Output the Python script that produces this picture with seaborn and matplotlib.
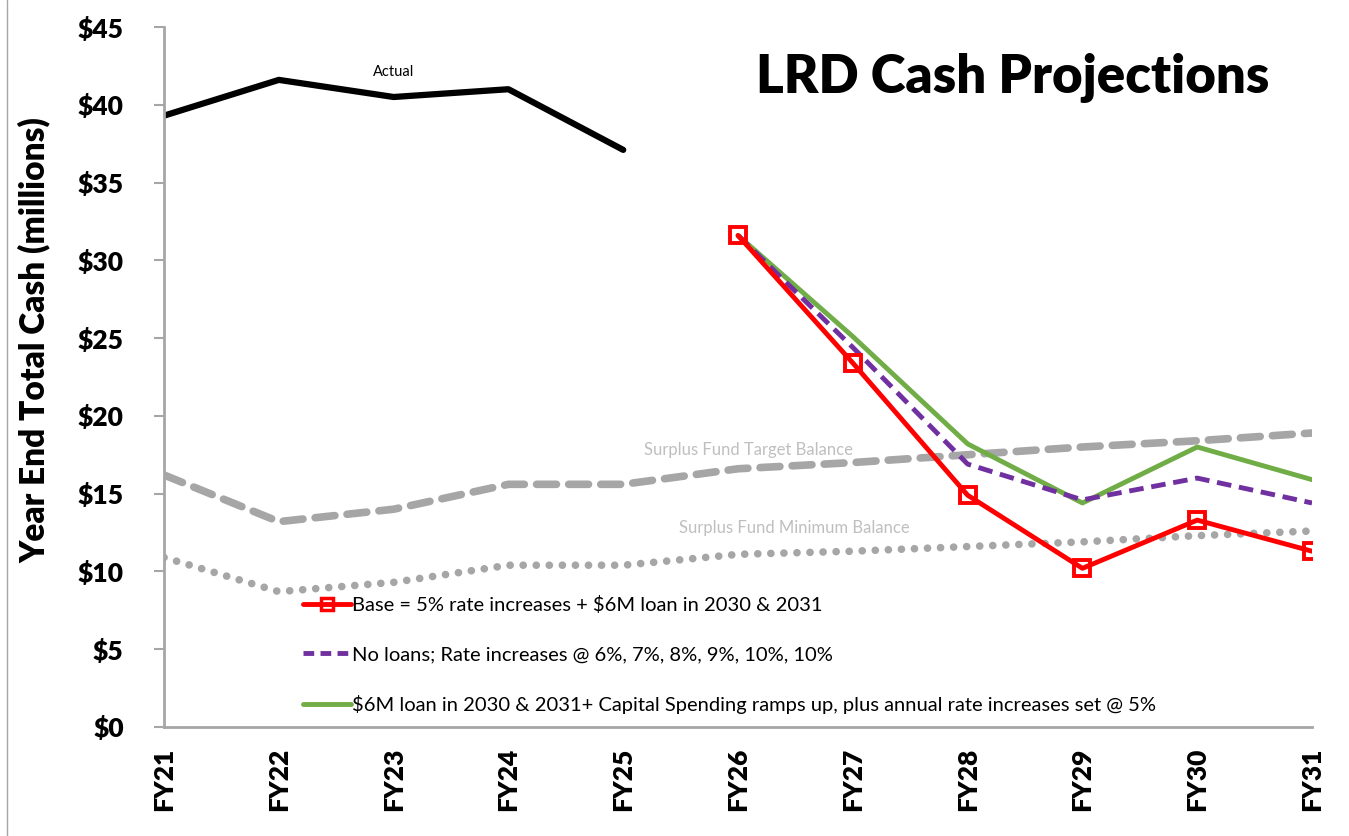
import numpy as np
import pandas as pd
import seaborn as sns
import matplotlib.pyplot as plt
from matplotlib.lines import Line2D

# data ($ millions)
years = ["FY21", "FY22", "FY23", "FY24", "FY25", "FY26", "FY27", "FY28", "FY29", "FY30", "FY31"]
actual_years = ["FY21", "FY22", "FY23", "FY24", "FY25"]
actual = [39.3, 41.6, 40.5, 41.0, 37.1]
target_balance = [16.2, 13.2, 14.0, 15.6, 15.6, 16.6, 17.0, 17.5, 18.0, 18.4, 18.9]
minimum_balance = [10.9, 8.7, 9.3, 10.4, 10.4, 11.1, 11.3, 11.6, 11.9, 12.3, 12.6]
proj_years = ["FY26", "FY27", "FY28", "FY29", "FY30", "FY31"]
base = [31.6, 23.4, 14.9, 10.2, 13.3, 11.3]
no_loans = [31.6, 24.4, 16.9, 14.6, 16.0, 14.4]
capital_ramp = [31.6, 25.1, 18.2, 14.4, 18.0, 15.9]

base_label = "Base = 5% rate increases + $6M loan in 2030 & 2031"
no_loans_label = "No loans; Rate increases @ 6%, 7%, 8%, 9%, 10%, 10%"
capital_label = "$6M loan in 2030 & 2031+ Capital Spending ramps up, plus annual rate increases set @ 5%"

sns.set_theme(style="white")
plt.rcParams['font.family'] = ['Lato', 'DejaVu Sans']
for key in ["text.color", "axes.labelcolor", "xtick.color", "ytick.color"]:
    plt.rcParams[key] = "black"

pos = {y: i for i, y in enumerate(years)}
gray = "#A6A6A6"

fig = plt.figure(figsize=(13.49, 8.36), dpi=100)
ax = fig.add_axes([0.1216, 0.1304, 0.851, 0.8373])

sns.lineplot(x=[pos[y] for y in years], y=target_balance, ax=ax, color=gray, linewidth=5.5,
             linestyle=(0, (2.6, 1.6)), dash_capstyle="round")
sns.lineplot(x=[pos[y] for y in years], y=minimum_balance, ax=ax, color=gray, linewidth=5.5,
             linestyle=(0, (0.01, 1.7)), dash_capstyle="round")
sns.lineplot(x=[pos[y] for y in actual_years], y=actual, ax=ax, color="black", linewidth=4.5)
px = [pos[y] for y in proj_years]
sns.lineplot(x=px, y=capital_ramp, ax=ax, color="#70AD47", linewidth=3.5)
sns.lineplot(x=px, y=no_loans, ax=ax, color="#7030A0", linewidth=3.5, linestyle=(0, (3, 1.6)))
sns.lineplot(x=px, y=base, ax=ax, color="#FF0000", linewidth=3.5, marker="s", markersize=12,
             markerfacecolor="none", markeredgecolor="#FF0000", markeredgewidth=2.8)

ax.set_xlim(0, len(years) - 1)
ax.set_ylim(0, 45)
ax.set_yticks(np.arange(0, 46, 5))
ax.set_yticklabels([f"${v}" for v in range(0, 46, 5)], fontweight="heavy", fontsize=19)
ax.set_xticks(range(len(years)))
ax.set_xticklabels(years, rotation=90, fontweight="heavy", fontsize=19)
ax.tick_params(axis="y", which="major", left=True, length=7, width=1.5, color=gray, pad=22)
ax.tick_params(axis="x", which="major", bottom=False, length=0, pad=15)
# tick marks only on every other year, like the original
ax.set_xticks(range(0, len(years), 2), minor=True)
ax.tick_params(axis="x", which="minor", bottom=True, length=7, width=1.5, color=gray)

for side in ["top", "right"]:
    ax.spines[side].set_visible(False)
for side in ["left", "bottom"]:
    ax.spines[side].set_color(gray)
    ax.spines[side].set_linewidth(2)

ax.set_ylabel("Year End Total Cash (millions)", fontsize=24, fontweight="heavy")
ax.yaxis.set_label_coords(-0.099, 0.553)
ax.set_xlabel("")

fig.text(0.751, 0.907, "LRD Cash Projections", ha="center", va="center", fontsize=38, fontweight="heavy")
ax.text(pos["FY23"], 42.1, "Actual", ha="center", va="center", fontsize=10.5)
ax.text(5.09, 17.8, "Surplus Fund Target Balance", ha="center", va="center", fontsize=12, color="#BFBFBF")
ax.text(5.49, 12.8, "Surplus Fund Minimum Balance", ha="center", va="center", fontsize=12, color="#BFBFBF")

handles = [
    Line2D([], [], color="#FF0000", linewidth=3.5, marker="s", markersize=9,
           markerfacecolor="none", markeredgecolor="#FF0000", markeredgewidth=2.5),
    Line2D([], [], color="#7030A0", linewidth=3.5, linestyle=(0, (2.2, 1.3))),
    Line2D([], [], color="#70AD47", linewidth=3.5),
]
ax.legend(handles, [base_label, no_loans_label, capital_label], loc="lower left",
          bbox_to_anchor=(0.105, -0.008), frameon=False, fontsize=14.5, labelspacing=1.6,
          handlelength=2.4, handletextpad=0.05)

# thin border line at the far left of the original slide
fig.add_artist(Line2D([0.005, 0.005], [0.0, 1.0], color="#A6A6A6", linewidth=1, transform=fig.transFigure))

fig.savefig("out.png", dpi=100)
